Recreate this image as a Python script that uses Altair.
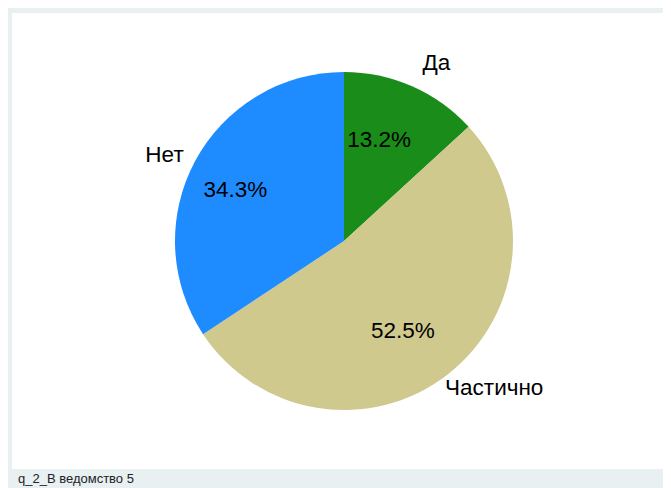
import altair as alt
import pandas as pd

categories = ["Да", "Частично", "Нет"]
shares = [13.2, 52.5, 34.3]
pct_labels = ["13.2%", "52.5%", "34.3%"]
colors = ["#1a8c1a", "#cfc98e", "#1e8cff"]

df = pd.DataFrame({
    "cat": categories,
    "share": shares,
    "pct": pct_labels,
    "ord": list(range(len(categories))),
})

theta_scale = alt.Scale(domain=[0, 100])
cx = alt.value(332)
cy = alt.value(228)

base = alt.Chart(df).transform_window(
    cum="sum(share)", sort=[alt.SortField("ord")]
).transform_calculate(
    start="datum.cum - datum.share",
    mid="datum.cum - datum.share / 2",
)

pie = base.mark_arc(outerRadius=169).encode(
    theta=alt.Theta("start:Q", scale=theta_scale, stack=None),
    theta2="cum:Q",
    x=cx,
    y=cy,
    color=alt.Color("cat:N", scale=alt.Scale(domain=categories, range=colors), legend=None),
)

txt = dict(fontSize=22.5, font="Liberation Sans", color="black")

pct = base.mark_text(radius=112, dx=-10, dy=2, **txt).encode(
    theta=alt.Theta("mid:Q", scale=theta_scale, stack=None),
    x=cx, y=cy,
    text="pct:N",
)


def cat_label(name, radius, align, dx=0):
    return base.transform_filter(alt.datum.cat == name).mark_text(
        radius=radius, align=align, dx=dx, **txt
    ).encode(
        theta=alt.Theta("mid:Q", scale=theta_scale, stack=None),
        x=cx, y=cy,
        text="cat:N",
    )


lab_da = cat_label("Да", 195, "left")
lab_ch = cat_label("Частично", 187, "left", dx=-14)
lab_net = cat_label("Нет", 182, "right")

chart = alt.layer(pie, pct, lab_da, lab_ch, lab_net).properties(
    width=651,
    height=456,
    background="#e8f0f2",
    padding={"left": 4, "top": 5, "right": 0, "bottom": 8},
    title=alt.TitleParams(
        "q_2_В ведомство 5",
        orient="bottom",
        anchor="start",
        fontSize=13,
        fontWeight="normal",
        font="Liberation Sans",
        color="#222222",
        offset=4,
        dx=6,
    ),
).configure_view(fill="white", stroke=None)

chart.save("out.html", embed_options={"renderer": "svg", "actions": False})
